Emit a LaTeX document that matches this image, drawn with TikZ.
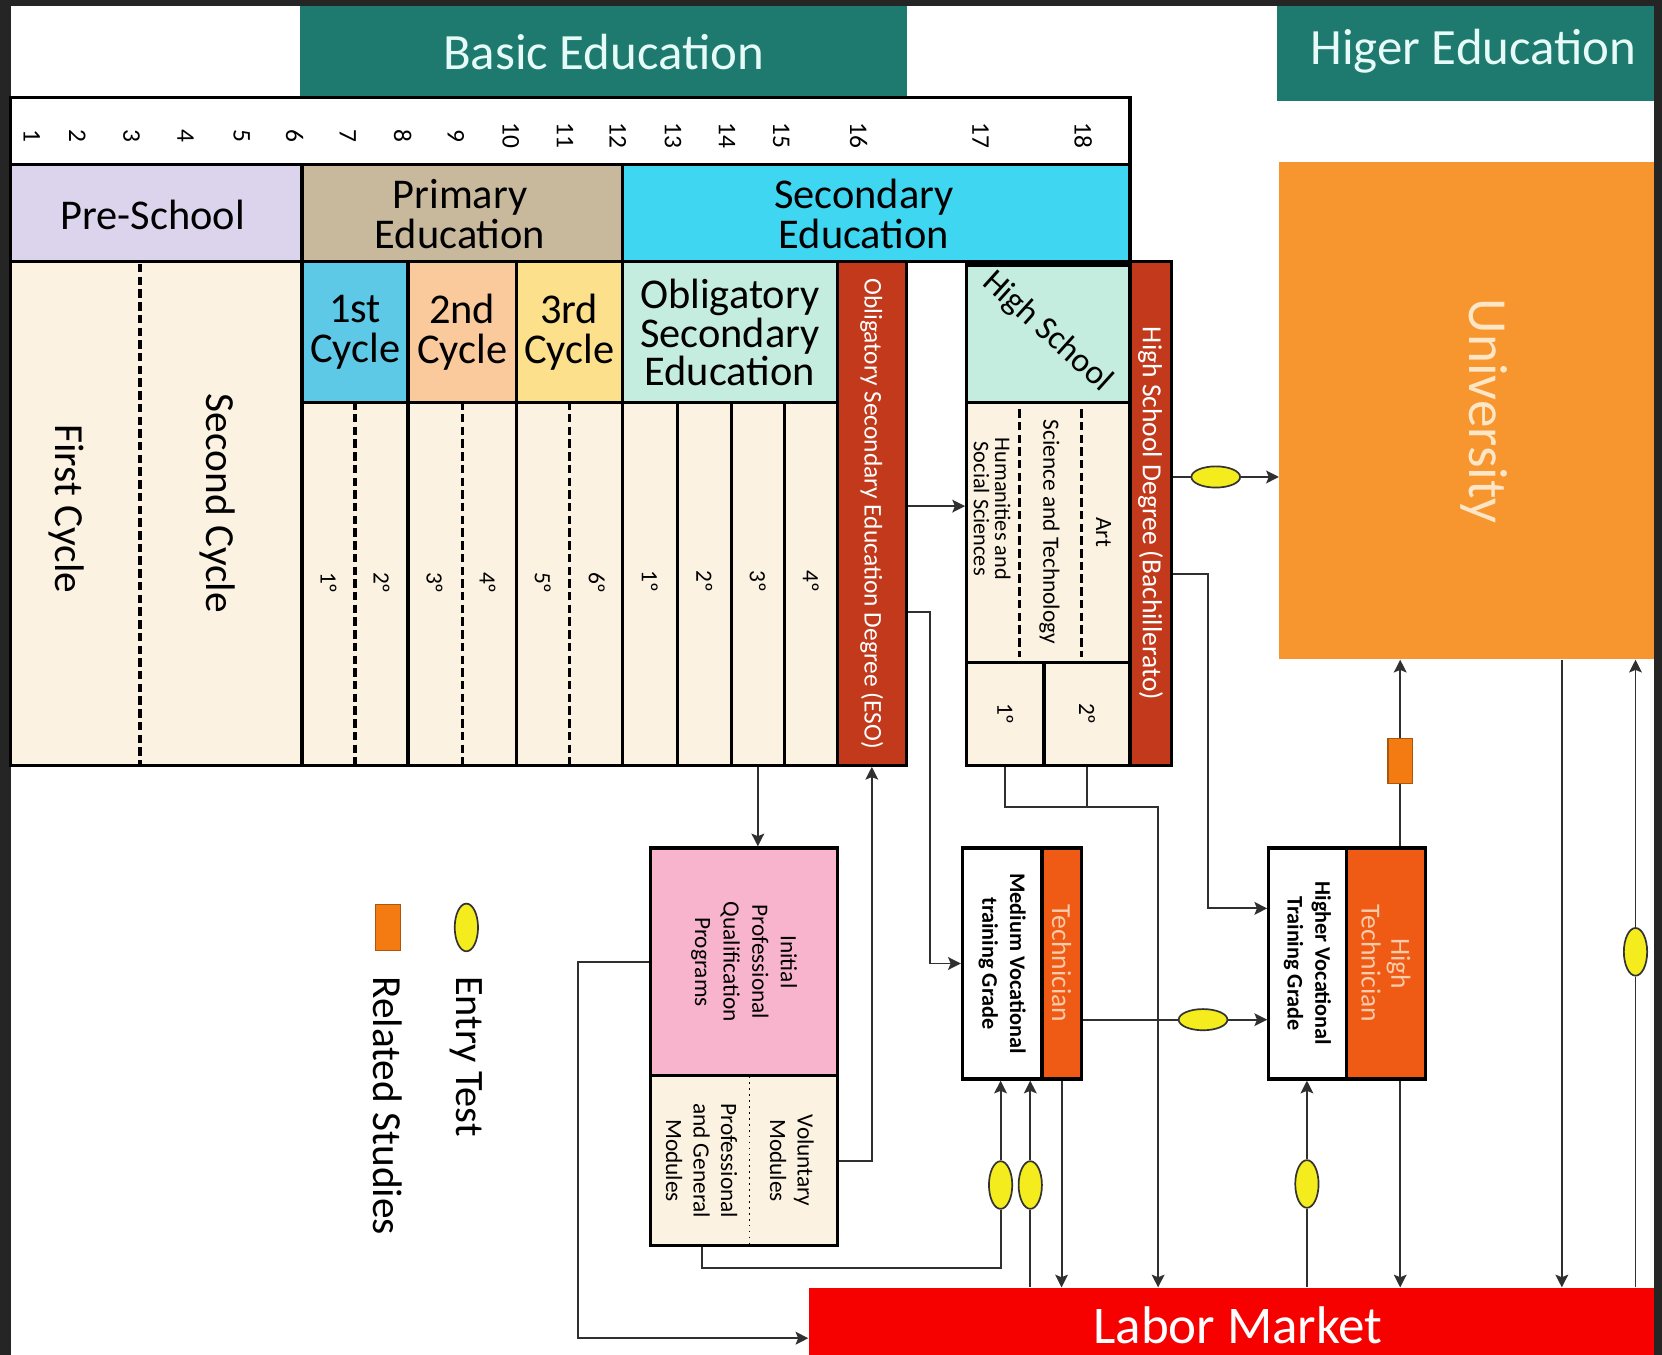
\documentclass[tikz,border=0pt]{standalone}
\usepackage{fontspec}
\setmainfont{Carlito}
\usepackage{tikz}
\usetikzlibrary{fit,calc,shapes.geometric,arrows.meta}

\definecolor{eduteal}{HTML}{1E7A6E}
\definecolor{headtxt}{HTML}{E6FAF7}
\definecolor{prelav}{HTML}{DCD3EC}
\definecolor{primtan}{HTML}{C8B99C}
\definecolor{seccyan}{HTML}{3FD6F1}
\definecolor{cream}{HTML}{FBF2E2}
\definecolor{cycblue}{HTML}{5DC9E7}
\definecolor{cycpeach}{HTML}{FBCA9C}
\definecolor{cycyellow}{HTML}{FDE08B}
\definecolor{mint}{HTML}{C5EDDF}
\definecolor{rust}{HTML}{C23A1B}
\definecolor{unior}{HTML}{F7962F}
\definecolor{unitxt}{HTML}{FCE6C6}
\definecolor{techor}{HTML}{EF5A14}
\definecolor{techtxt}{HTML}{F9CBAA}
\definecolor{ipink}{HTML}{F7B4CC}
\definecolor{relor}{HTML}{F47B12}
\definecolor{testyel}{HTML}{F4EC1C}
\definecolor{labred}{HTML}{F70000}
\definecolor{darkframe}{HTML}{252525}
\definecolor{linegray}{HTML}{303030}

\newcommand{\fsz}[2]{\fontsize{#1}{#2}\selectfont}

\tikzset{
  cell/.style={draw=black, line width=1.5pt, inner sep=0pt, fill=cream},
  band/.style={inner sep=0pt},
  headlbl/.style={text=headtxt, font=\fsz{24}{24}},
  lvl/.style={align=center, font=\fsz{20}{19}},
  agenum/.style={rotate=-90, font=\fsz{12}{12}},
  grade/.style={rotate=-90, font=\fsz{11}{11}},
  vtext/.style={rotate=-90, align=center},
  divider/.style={line width=1.5pt, dash pattern=on 4pt off 2pt},
  arr/.style={draw=linegray, line width=0.9pt, -{Stealth[length=6pt,width=6pt,inset=1.2pt]}},
  link/.style={draw=linegray, line width=0.9pt},
  entryv/.style={ellipse, draw=black!80, line width=0.8pt, fill=testyel, minimum width=11pt, minimum height=22.5pt, inner sep=0pt},
  entryh/.style={entryv, minimum width=23pt, minimum height=10pt},
  related/.style={draw=relor!70!black, line width=0.6pt, fill=relor, minimum width=11.5pt, minimum height=21pt, inner sep=0pt},
}

\begin{document}
\begin{tikzpicture}[x=0.5pt, y=-0.5pt]
	\useasboundingbox (0,0) rectangle (1568,1278);
	\fill[darkframe] (0,0) rectangle (1568,1278);
	\fill[white] (10,6) rectangle (1560,1278);

	\node[band, fill=eduteal, fit={(283,6) (856,92)}] (basic) {}; %
	\node[headlbl] (basictxt) at (basic.center) {Basic Education}; %
	\node[band, fill=eduteal, fit={(1205,6) (1560,95)}] (higher) {}; %
	\node[headlbl] (highertxt) at (1390,48) {Higer Education}; %

	\node[cell, fill=white, fit={(10,92) (1066,155)}] (ages) {}; %
	\foreach \n/\x in {1/30,2/73,3/124,4/175,5/228,6/278,7/328,8/380,9/430,10/482,11/533,12/583,13/635,14/686,15/737,16/810,17/925,18/1022}
		\node[agenum] (age\n) at (\x,128) {\n}; %

	\node[cell, fill=prelav, fit={(10,155) (285,247)}] (pre) {}; %
	\node[lvl] (pretxt) at (144,203) {Pre-School}; %
	\node[cell, fill=primtan, fit={(285,155) (587,247)}] (prim) {}; %
	\node[lvl] (primtxt) at (434,202) {Primary\\Education}; %
	\node[cell, fill=seccyan, fit={(587,155) (1066,247)}] (sec) {}; %
	\node[lvl] (sectxt) at (815,202) {Secondary\\Education}; %

	\node[cell, fit={(10,247) (285,722)}] (presch) {}; %
	\draw[divider] (132,249) -- (132,721);
	\node[vtext, font=\fsz{19.5}{19.5}] (first) at (63,480) {First Cycle}; %
	\node[vtext, font=\fsz{19.5}{19.5}] (second) at (205,475) {Second Cycle}; %

	\foreach \n/\xa/\xb/\col/\lbl in {1/285/385/cycblue/1st, 2/385/487/cycpeach/2nd, 3/487/587/cycyellow/3rd}{
		\node[cell, fill=\col, fit={(\xa,247) (\xb,380)}] (cyc\n) {}; %
		\node[lvl] (cyctxt\n) at (cyc\n.center) {\lbl\\Cycle}; %
		\node[cell, fit={(\xa,380) (\xb,722)}] (cycg\n) {}; %
		\draw[divider] (cycg\n.north) -- (cycg\n.south);
	}
	\foreach \n/\x in {1/310,2/360,3/410,4/460,5/512,6/563}
		\node[grade] (pgr\n) at (\x,550) {{\n}º}; %

	\node[cell, fill=mint, fit={(587,247) (790,380)}] (oblig) {}; %
	\node[lvl, font=\fsz{20}{16.5}] (obligtxt) at (oblig.center) {Obligatory\\Secondary\\Education}; %
	\foreach \n/\xa/\xb in {1/587/639, 2/639/690, 3/690/740, 4/740/790}{
		\node[cell, fit={(\xa,380) (\xb,722)}] (esoc\n) {}; %
		\node[grade] (esog\n) at ($(esoc\n.north)+(0,170)$) {{\n}º}; %
	}
	\node[cell, fill=rust, fit={(790,247) (855,722)}] (esodeg) {}; %
	\node[vtext, text=white, font=\fsz{12}{12}] (esotxt) at (esodeg.center) {Obligatory Secondary Education Degree (ESO)}; %

	\node[cell, fill=mint, fit={(912,250) (1066,380)}] (hstop) {}; %
	\node[rotate=-42, font=\fsz{16}{16}] (hstxt) at (988,313) {High School}; %
	\node[cell, fit={(912,380) (1066,625)}] (hstracks) {}; %
	\draw[divider] (962,386) -- (962,620);
	\draw[divider] (1020,386) -- (1020,620);
	\node[vtext, font=\fsz{10.5}{10}] (hum) at (936,480) {Humanities and\\Social Sciences}; %
	\node[vtext, font=\fsz{11}{11}] (scitec) at (990,502) {Science and Technology}; %
	\node[vtext, font=\fsz{11}{11}] (art) at (1041,502) {Art}; %
	\node[cell, fit={(912,625) (985,722)}] (hs1) {}; %
	\node[cell, fit={(985,625) (1066,722)}] (hs2) {}; %
	\node[grade] (hsg1) at (hs1.center) {1º}; %
	\node[grade] (hsg2) at (hs2.center) {2º}; %
	\node[cell, fill=rust, fit={(1066,247) (1105,722)}] (bach) {}; %
	\node[vtext, text=white, font=\fsz{13}{13}] (bachtxt) at (bach.center) {High School Degree (Bachillerato)}; %

	\node[band, fill=unior, fit={(1207,153) (1560,622)}] (univ) {}; %
	\node[vtext, text=unitxt, font=\fsz{26}{26}] (univtxt) at (1400,388) {University}; %

	\node[band, fill=labred, fit={(763,1215) (1560,1278)}] (labor) {}; %
	\node[text=white, font=\fsz{25}{25}] (labtxt) at (1168,1250) {Labor Market}; %

	\node[cell, fill=ipink, fit={(614,800) (790,1015)}] (ipqp) {}; %
	\node[vtext, font=\fsz{11}{13.5}] (ipqptxt) at (ipqp.center) {Initial\\Professional\\Qualification\\Programs}; %
	\node[cell, fit={(614,1015) (790,1175)}] (ipqpmod) {}; %
	\draw[dotted, line width=0.8pt] ($(ipqpmod.north)+(5,2)$) -- ($(ipqpmod.south)+(5,-2)$);
	\node[vtext, font=\fsz{11}{13}] (volmod) at (747,1095) {Voluntary\\Modules}; %
	\node[vtext, font=\fsz{11}{13}] (profmod) at (662,1095) {Professional\\and General\\Modules}; %

	\node[cell, fill=white, fit={(908,800) (983,1018)}] (medium) {}; %
	\node[cell, fill=techor, fit={(983,800) (1020,1018)}] (tech) {}; %
	\node[vtext, font=\bfseries\fsz{10.5}{13}] (medtxt) at (medium.center) {Medium Vocational\\training Grade}; %
	\node[vtext, text=techtxt, font=\fsz{13}{13}] (techlbl) at (tech.center) {Technician}; %

	\node[cell, fill=white, fit={(1197,800) (1270,1018)}] (hvt) {}; %
	\node[cell, fill=techor, fit={(1270,800) (1345,1018)}] (htech) {}; %
	\node[vtext, font=\bfseries\fsz{10.5}{13}] (hvttxt) at (hvt.center) {Higher Vocational\\Training Grade}; %
	\node[vtext, text=techtxt, font=\fsz{13}{14}] (htechlbl) at (htech.center) {High\\Technician}; %

	\node[entryv] (legentry) at (440,875) {}; %
	\node[rotate=-90, anchor=west, font=\fsz{19}{19}] (legentrytxt) at (440,914) {Entry Test}; %
	\node[related, minimum width=12pt, minimum height=22pt] (legrel) at (366,875) {}; %
	\node[rotate=-90, anchor=west, font=\fsz{19.5}{19.5}] (legreltxt) at (366,914) {Related Studies}; %

	\node[entryv] (etA) at (944,1118) {}; %
	\node[entryv] (etB) at (972,1118) {}; %
	\node[entryh] (etC) at (1147,450) {}; %
	\node[entryh] (etD) at (1135,962) {}; %
	\node[entryv] (etE) at (1233,1117) {}; %
	\node[entryv] (etF) at (1543,898) {}; %
	\node[related] (rs) at (1321,718) {}; %
	\coordinate (unidown) at ($(univ.south)+(90,0)$);

	\draw[arr] ($(esodeg.east)+(0,-7)$) -- ($(esodeg.east -| hstracks.west)+(0,-7)$);
	\draw[arr] ($(esodeg.east)+(0,93)$) -- ++(21,0) |- (medium.west);
	\draw[arr] (esoc3.south) -- (esoc3.south |- ipqp.north);
	\draw[arr] (ipqpmod.east) -| (esodeg.south);
	\draw[arr] (ipqp.west) -- ++(-67,0) |- ($(labor.west)+(0,16)$);
	\draw[link] (profmod |- ipqpmod.south) -- ++(0,20) -| (etA.south);
	\draw[arr] (etA.north) -- (etA |- medium.south);
	\draw[link] (etB |- labor.north) -- (etB.south);
	\draw[arr] (etB.north) -- (etB |- medium.south);
	\draw[arr] (tech.south) -- (tech.south |- labor.north);
	\draw[link] (hs2.south) -- ++(0,38);
	\draw[arr] (hs1.south) -- ++(0,38) -| ($(labor.north west)+(330,0)$);
	\draw[arr] ($(bach.east)+(0,57)$) -- ++(33,0) |- ($(hvt.west)+(0,-52)$);
	\draw[link] (etC -| bach.east) -- (etC.west);
	\draw[arr] (etC.east) -- (etC -| univ.west);
	\draw[link] (etD -| tech.east) -- (etD.west);
	\draw[arr] (etD.east) -- (etD -| hvt.west);
	\draw[link] (etE |- labor.north) -- (etE.south);
	\draw[arr] (etE.north) -- (etE |- hvt.south);
	\draw[link] (rs |- htech.north) -- (rs.south);
	\draw[arr] (rs.north) -- (rs |- univ.south);
	\draw[arr] (rs |- htech.south) -- (rs |- labor.north);
	\draw[arr] (unidown) -- (unidown |- labor.north);
	\draw[link] (etF |- labor.north) -- (etF.south);
	\draw[arr] (etF.north) -- (etF |- univ.south);
\end{tikzpicture}
\end{document}
